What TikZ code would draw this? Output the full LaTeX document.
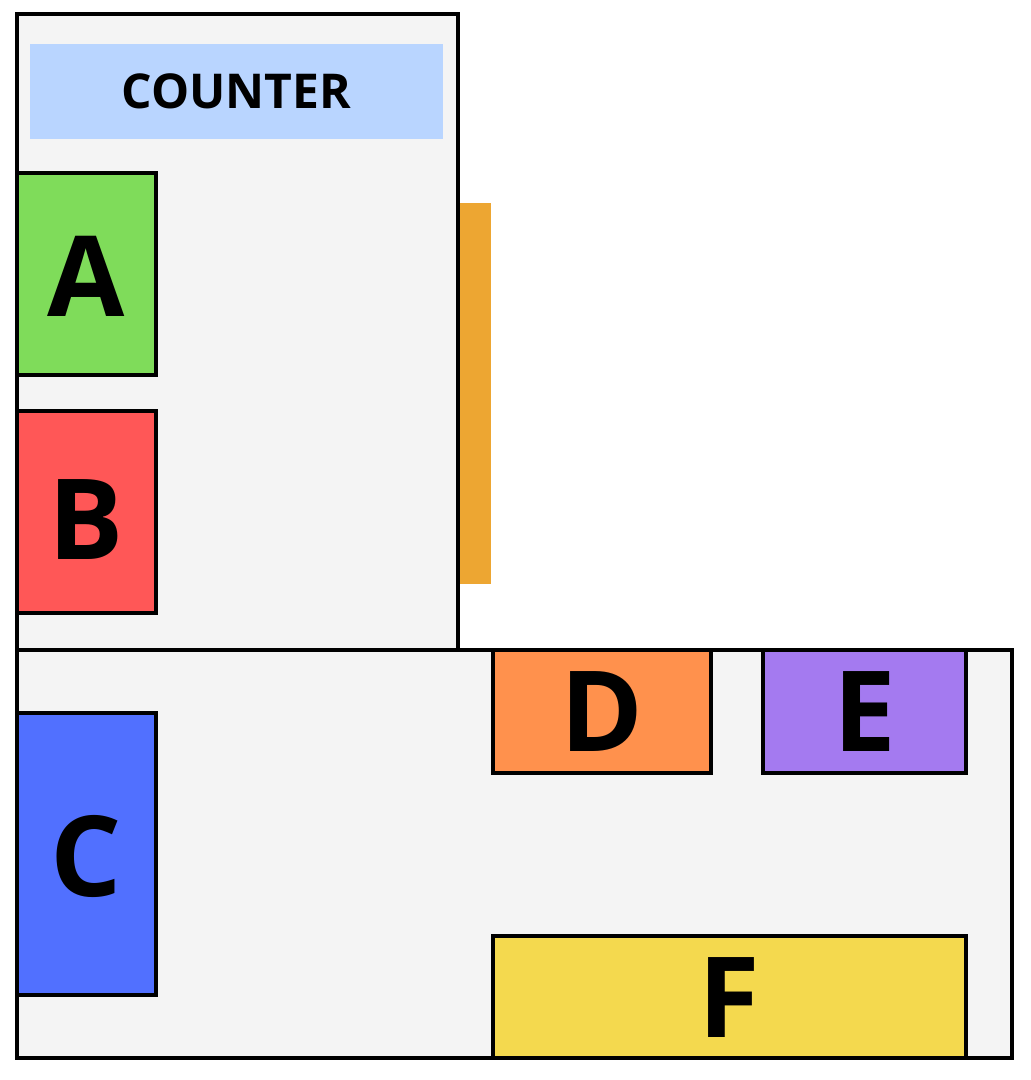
\documentclass[tikz,border=0pt]{standalone}
\usepackage{fontspec}
\setmainfont{Open Sans}
\definecolor{roomgray}{HTML}{F4F4F4}
\definecolor{counterblue}{HTML}{B9D5FF}
\definecolor{striporange}{HTML}{EDA632}
\definecolor{boxgreen}{HTML}{7FDC5A}
\definecolor{boxred}{HTML}{FF5757}
\definecolor{boxblue}{HTML}{5170FF}
\definecolor{boxorange}{HTML}{FF914D}
\definecolor{boxpurple}{HTML}{A47AF0}
\definecolor{boxyellow}{HTML}{F4D94E}
\tikzset{
  room/.style={rectangle, draw, line width=4pt, fill=roomgray, inner sep=0pt, outer sep=0pt, anchor=north west},
  station/.style={rectangle, draw, line width=4pt, inner sep=0pt, outer sep=0pt, anchor=north west, text depth=0pt, font=\fontsize{112}{112}\selectfont\bfseries},
  % taller text box pushes the letter down from the middle of the box
  drop/.style={text height=80pt+2*#1}
}

\begin{document}
\begin{tikzpicture}[x=1pt, y=-1pt]
    \useasboundingbox (0,0) rectangle (1031,1080);
    \node[room, minimum width=441pt, minimum height=636pt] (upper) at (16.5,14) {};
    \node[room, minimum width=995pt, minimum height=408pt] (lower) at (16.5,650) {};

    \node[rectangle, fill=counterblue, inner sep=0pt, outer sep=0pt, anchor=north west, minimum width=413pt, minimum height=95pt, font=\fontsize{48}{48}\selectfont\bfseries] (counter) at (30,44) {COUNTER};
    \node[rectangle, fill=striporange, inner sep=0pt, outer sep=0pt, anchor=north west, minimum width=31.5pt, minimum height=381pt] (strip) at (459.5,203) {};

    \node[station, drop=2pt, fill=boxgreen, minimum width=139pt, minimum height=202pt] (a) at (16.5,173) {A};
    \node[station, drop=7pt, fill=boxred, minimum width=139pt, minimum height=202pt] (b) at (16.5,411) {B};
    \node[station, drop=2pt, fill=boxblue, minimum width=139pt, minimum height=282pt] (c) at (16.5,713) {C};
    \node[station, drop=0pt, fill=boxorange, minimum width=218pt, minimum height=123pt] (d) at (493,650) {D};
    \node[station, drop=0pt, fill=boxpurple, minimum width=203pt, minimum height=123pt] (e) at (763,650) {E};
    \node[station, drop=0pt, fill=boxyellow, minimum width=473pt, minimum height=122pt] (f) at (493,936) {F};
\end{tikzpicture}
\end{document}
